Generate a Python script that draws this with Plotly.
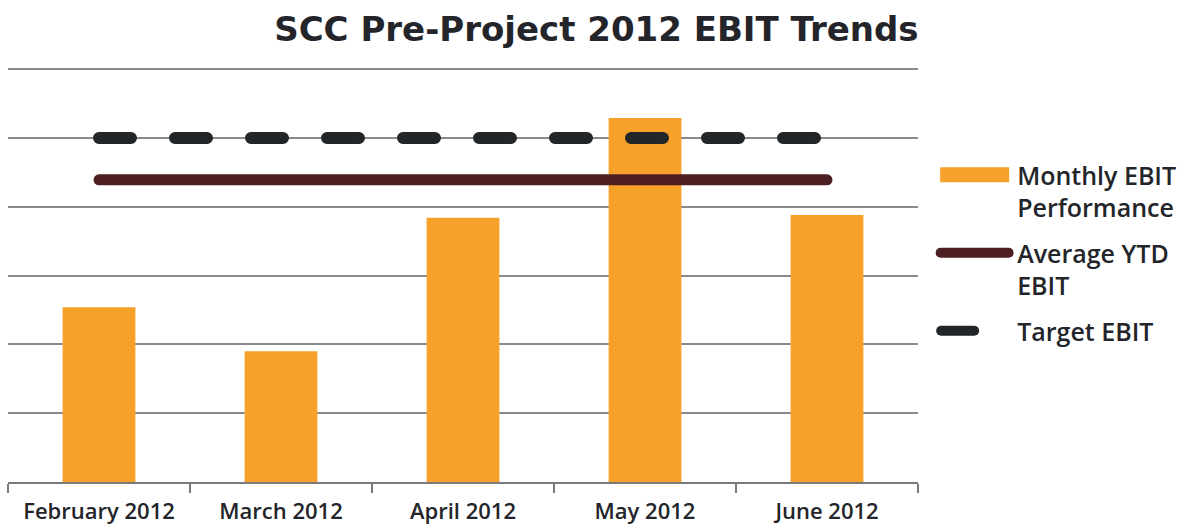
import plotly.graph_objects as go

# Monthly EBIT data (units of the chart's value axis)
months = ["February 2012", "March 2012", "April 2012", "May 2012", "June 2012"]
monthly_ebit = [2.54, 1.90, 3.84, 5.29, 3.88]
average_ytd_ebit = [4.39, 4.39, 4.39, 4.39, 4.39]
target_ebit = [5.0, 5.0, 5.0, 5.0, 5.0]

FONT = "Open Sans"
TITLE_FONT = "DejaVu Sans"
TEXT = "#23252a"

fig = go.Figure()

fig.add_trace(go.Bar(
    x=months, y=monthly_ebit,
    name="Monthly EBIT<br>Performance", legendgroup="monthly",
    marker=dict(color="#F7A12B", line=dict(width=0)),
))

fig.add_trace(go.Scatter(
    x=months, y=average_ytd_ebit,
    name="Average YTD<br>EBIT", legendgroup="average",
    mode="lines",
    line=dict(color="#4E1F22", width=11),
))

fig.add_trace(go.Scatter(
    x=months, y=target_ebit,
    name="Target EBIT", legendgroup="target",
    mode="lines",
    line=dict(color="#222628", width=12, dash="32px,44px"),
))

fig.update_layout(
    width=1181, height=528,
    margin=dict(l=8, r=263, t=67, b=46, autoexpand=False),
    paper_bgcolor="white", plot_bgcolor="white",
    bargap=0.6,
    showlegend=True,
    title=dict(
        text="<b>SCC Pre-Project 2012 EBIT Trends</b>",
        x=0.505, xanchor="center", y=0.945, yanchor="middle",
        font=dict(family=TITLE_FONT, size=34, color=TEXT),
    ),
    legend=dict(
        x=1.065, xanchor="left", y=0.795, yanchor="top",
        traceorder="grouped", valign="top",
        font=dict(family=FONT, size=25, color=TEXT, weight=600),
        tracegroupgap=10, itemwidth=30,
        bgcolor="rgba(0,0,0,0)",
    ),
    xaxis=dict(
        automargin=False,
        showline=True, linecolor="#7a7a7a", linewidth=1.5,
        ticks="outside", tickson="boundaries", ticklen=9,
        tickcolor="#7a7a7a", tickwidth=1.5,
        showgrid=False, ticklabelstandoff=9,
        tickfont=dict(family=FONT, size=22, color=TEXT, weight=600),
    ),
    yaxis=dict(
        automargin=False,
        range=[0, 6.03], dtick=1, showticklabels=False,
        showgrid=True, gridcolor="#8a8a8a", gridwidth=1.5,
        zeroline=False, showline=False,
    ),
)

# Rounded line ends, and wider legend samples reaching left of the labels
post = """
document.querySelectorAll('.scatterlayer path.js-line, .legendlines path').forEach(function(p){
  p.style.strokeLinecap = 'round';
});
document.querySelectorAll('.legend [clip-path]').forEach(function(e){
  e.removeAttribute('clip-path');
});
var items = document.querySelectorAll('.legend .traces');
var shapes = [
  {sel: '.legendpoints path', d: 'M12,7.5H-57V-7.5H12Z'},
  {sel: '.legendlines path', d: 'M-36.5,0H31.5'},
  {sel: '.legendlines path', d: 'M-36,0H-3'}
];
items.forEach(function(it, i){
  if (!shapes[i]) return;
  it.querySelectorAll(shapes[i].sel).forEach(function(p){
    p.setAttribute('d', shapes[i].d);
    p.style.strokeDasharray = 'none';
  });
});
"""

fig.write_html("out.html", post_script=post)
